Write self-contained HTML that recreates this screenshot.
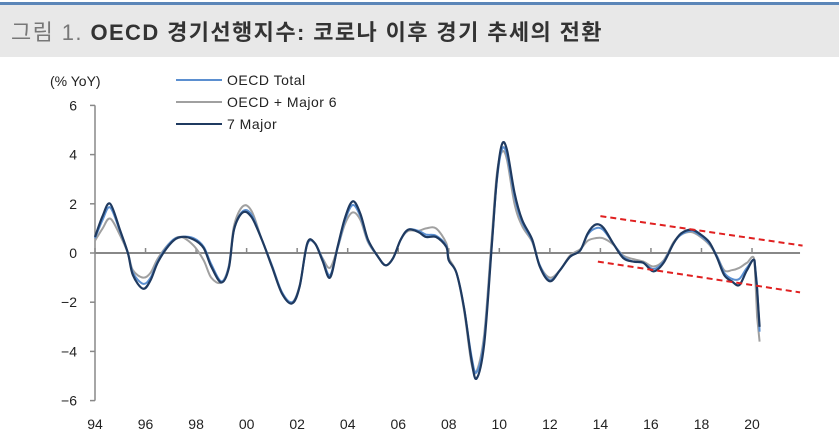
<!DOCTYPE html>
<html><head><meta charset="utf-8"><style>
body{margin:0;background:#fff;width:839px;height:446px;overflow:hidden}
svg{display:block;font-family:"Liberation Sans","Noto Sans CJK KR",sans-serif}
</style></head><body>
<svg id="c" width="839" height="446">
<rect x="0" y="2" width="839" height="3" fill="#5b86b8"/>
<rect x="0" y="5" width="839" height="52" fill="#e8e8e8"/>
<text x="11" y="40" font-size="22" font-weight="bold" fill="#333" letter-spacing="1.4"><tspan fill="#777" font-weight="normal">그림 1. </tspan>OECD 경기선행지수: 코로나 이후 경기 추세의 전환</text>
<text x="50" y="86" font-size="14" fill="#222">(% YoY)</text>
<g id="legend"></g>
<g id="axes"></g><g id="series"></g>
</svg>
<script>
const years=[1994.0,1994.3,1994.6,1995.0,1995.3,1995.5,1995.9,1996.2,1996.5,1997.0,1997.4,1997.9,1998.3,1998.6,1999.0,1999.3,1999.5,1999.85,2000.2,2000.6,2001.0,2001.4,2001.8,2002.1,2002.4,2002.7,2003.0,2003.3,2003.6,2003.9,2004.2,2004.5,2004.8,2005.2,2005.5,2005.8,2006.1,2006.4,2006.8,2007.1,2007.5,2007.9,2008.0,2008.3,2008.6,2008.9,2009.1,2009.4,2009.7,2009.9,2010.1,2010.3,2010.6,2010.9,2011.3,2011.6,2012.0,2012.4,2012.8,2013.2,2013.5,2013.8,2014.1,2014.5,2014.9,2015.3,2015.7,2016.1,2016.5,2016.9,2017.2,2017.6,2017.9,2018.3,2018.6,2018.9,2019.2,2019.5,2019.8,2020.1,2020.2,2020.3];
const major7=[0.65,1.5,2.0,0.9,0,-0.9,-1.45,-1.1,-0.35,0.4,0.65,0.55,0.2,-0.55,-1.2,-0.6,0.95,1.65,1.45,0.55,-0.55,-1.65,-2.05,-1.35,0.4,0.4,-0.3,-1.0,0.25,1.45,2.1,1.6,0.55,-0.15,-0.5,-0.2,0.55,0.95,0.85,0.65,0.65,0.25,-0.3,-0.8,-2.2,-4.35,-5.1,-3.7,0.25,3.0,4.4,4.2,2.45,1.35,0.55,-0.55,-1.15,-0.7,-0.15,0.1,0.8,1.15,1.05,0.4,-0.2,-0.35,-0.4,-0.75,-0.4,0.4,0.8,0.95,0.8,0.45,-0.15,-0.9,-1.15,-1.3,-0.7,-0.3,-1.5,-3.0];
const oecdTotal=[0.6,1.35,1.85,0.85,0,-0.8,-1.25,-1.0,-0.3,0.45,0.65,0.6,0.25,-0.45,-1.15,-0.55,0.95,1.7,1.55,0.55,-0.5,-1.6,-2.0,-1.35,0.35,0.4,-0.25,-0.9,0.2,1.35,1.95,1.5,0.5,-0.15,-0.5,-0.2,0.55,0.95,0.9,0.75,0.7,0.3,-0.3,-0.8,-2.2,-4.2,-4.85,-3.5,0.3,2.9,4.2,4.0,2.3,1.25,0.5,-0.5,-1.1,-0.7,-0.15,0.1,0.75,1.0,0.95,0.4,-0.15,-0.35,-0.4,-0.65,-0.35,0.4,0.75,0.9,0.75,0.4,-0.1,-0.8,-1.05,-1.05,-0.6,-0.3,-1.3,-3.2];
const oecdMajor6=[0.5,1.0,1.4,0.7,0,-0.7,-1.0,-0.8,-0.2,0.45,0.65,0.3,-0.3,-1.0,-1.2,-0.5,1.1,1.9,1.7,0.55,-0.5,-1.6,-2.0,-1.3,0.35,0.4,-0.2,-0.6,0.2,1.2,1.65,1.35,0.45,-0.15,-0.5,-0.2,0.55,0.9,0.9,1.0,1.0,0.4,-0.2,-0.8,-2.3,-4.5,-4.8,-3.3,0.6,3.2,4.1,3.8,2.0,1.1,0.45,-0.5,-1.0,-0.7,-0.1,0.15,0.5,0.6,0.6,0.35,-0.1,-0.25,-0.35,-0.55,-0.3,0.45,0.75,0.85,0.7,0.35,-0.1,-0.7,-0.7,-0.6,-0.4,-0.3,-2.6,-3.6];
const yTicks=[6,4,2,0,-2,-4,-6];
const xTicks=[1994,1996,1998,2000,2002,2004,2006,2008,2010,2012,2014,2016,2018,2020];
const xLabels=["94","96","98","00","02","04","06","08","10","12","14","16","18","20"];
const trendUpper=[[2014.0,1.5],[2022.0,0.3]];
const trendLower=[[2013.9,-0.35],[2021.9,-1.6]];
const NS='http://www.w3.org/2000/svg';
const X=v=>95+(v-1994)*25.27, Y=v=>253-v*24.6;
function mk(t,a,p){const e=document.createElementNS(NS,t);for(const k in a)e.setAttribute(k,a[k]);p.appendChild(e);return e;}
const ax=document.getElementById('axes'), se=document.getElementById('series'), lg=document.getElementById('legend');
let e=mk('line',{x1:95,y1:Y(6),x2:95,y2:Y(-6),stroke:'#888','stroke-width':1.5},ax);


yTicks.forEach(v=>{
 let t=mk('line',{x1:90,x2:95,y1:Y(v),y2:Y(v),stroke:'#888','stroke-width':1.5},ax);
 
 
 let l=mk('text',{x:77,y:Y(v)+5,'font-size':14,'text-anchor':'end',fill:'#222'},ax);
 l.textContent=v<0?'\u2212'+(-v):String(v);
 
 
});
e=mk('line',{x1:95,y1:Y(0),x2:X(2021.9),y2:Y(0),stroke:'#888','stroke-width':2},ax);


xTicks.forEach((v,i)=>{
 let t=mk('line',{x1:X(v),x2:X(v),y1:Y(0),y2:Y(0)-5,stroke:'#888','stroke-width':1.5},ax);
 
 
 let l=mk('text',{x:X(v),y:429,'font-size':14,'text-anchor':'middle',fill:'#222'},ax);
 l.textContent=xLabels[i];
 
 
});
function line(vals,col,w,name){
 const P=vals.map((v,i)=>[X(years[i]),Y(v)]);
 let d='M'+P[0][0].toFixed(1)+' '+P[0][1].toFixed(1);
 const n=P.length;
 for(let i=0;i<n-1;i++){
  const p0=P[Math.max(i-1,0)],p1=P[i],p2=P[i+1],p3=P[Math.min(i+2,n-1)];
  const t=i>=n-3?0:1/6;
  const c1=[p1[0]+(p2[0]-p0[0])*t,p1[1]+(p2[1]-p0[1])*t];
  const c2=[p2[0]-(p3[0]-p1[0])*t,p2[1]-(p3[1]-p1[1])*t];
  d+=' C'+c1.map(q=>q.toFixed(1)).join(' ')+' '+c2.map(q=>q.toFixed(1)).join(' ')+' '+p2[0].toFixed(1)+' '+p2[1].toFixed(1);
 }
 const p=mk('path',{d:d,fill:'none',stroke:col,'stroke-width':w,'stroke-linejoin':'round'},se);
 
 
}
line(oecdMajor6,'#a0a0a0',2,'series-oecd-major6');
line(oecdTotal,'#5b8fd0',2,'series-oecd-total');
line(major7,'#1f3a60',2.2,'series-7-major');
[[trendUpper,'trend-line-upper'],[trendLower,'trend-line-lower']].forEach(([t,n])=>{
 let l=mk('line',{x1:X(t[0][0]),y1:Y(t[0][1]),x2:X(t[1][0]),y2:Y(t[1][1]),stroke:'#e02020','stroke-width':2,'stroke-dasharray':'6,4'},se);
 
 
});
[['OECD Total','#5b8fd0',80],['OECD + Major 6','#a0a0a0',102],['7 Major','#1f3a60',124]].forEach(([t,c,y])=>{
 let l=mk('line',{x1:176,x2:222,y1:y,y2:y,stroke:c,'stroke-width':2},lg);
 
 
 let s=mk('text',{x:227,y:y+5,'font-size':14,fill:'#222','letter-spacing':'0.5'},lg);
 s.textContent=t;
 
 
});
</script>
</body></html>
